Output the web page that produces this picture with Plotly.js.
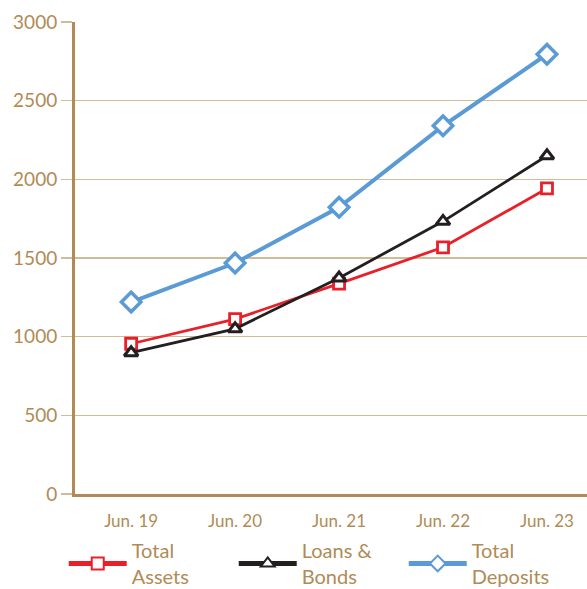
<!DOCTYPE html>
<html>
<head>
<meta charset="utf-8">
<script src="https://cdn.plot.ly/plotly-3.0.1.min.js"></script>
<style>html,body{margin:0;padding:0;background:#fff;}#chart{width:587px;height:589px;}</style>
</head>
<body>
<div id="chart"></div>
<script>
const categories = ['Jun. 19', 'Jun. 20', 'Jun. 21', 'Jun. 22', 'Jun. 23'];
const totalAssets = [955, 1112, 1337, 1568, 1942];
const loansBonds = [898, 1050, 1373, 1733, 2150];
const totalDeposits = [1220, 1468, 1822, 2340, 2795];
const seriesNames = ['Total<br>Assets', 'Loans &<br>Bonds', 'Total<br>Deposits'];

const gold = '#b08b55';
const idx = categories.map((c, i) => i);

const traces = [
  {x: idx, y: totalAssets, name: seriesNames[0], mode: 'lines+markers',
   line: {color: '#e8202a', width: 2.8},
   marker: {symbol: 'square', size: 11, color: '#ffffff', line: {color: '#e8202a', width: 2.8}}},
  {x: idx, y: loansBonds, name: seriesNames[1], mode: 'lines+markers',
   line: {color: '#231f20', width: 2.8},
   marker: {symbol: 'triangle-up', size: 12, color: '#ffffff', line: {color: '#231f20', width: 3}}},
  {x: idx, y: totalDeposits, name: seriesNames[2], mode: 'lines+markers',
   line: {color: '#5b9bd5', width: 4},
   marker: {symbol: 'diamond', size: 15, color: '#ffffff', line: {color: '#5b9bd5', width: 3.5}}}
];

const layout = {
  width: 587, height: 589,
  margin: {l: 75, r: 0, t: 22, b: 95, autoexpand: false},
  paper_bgcolor: '#ffffff', plot_bgcolor: '#ffffff',
  font: {family: 'Lato, sans-serif', color: gold},
  showlegend: true,
  legend: {orientation: 'h', x: -0.022, xanchor: 'left', y: -0.216, yanchor: 'bottom',
           bgcolor: 'rgba(0,0,0,0)',
           font: {size: 20, color: gold}, entrywidth: 97, entrywidthmode: 'pixels',
           itemwidth: 58, tracegroupgap: 0, itemsizing: 'constant'},
  xaxis: {
    range: [-0.54, 4.385], tickmode: 'array', tickvals: idx, ticktext: categories,
    showgrid: false, zeroline: false, showline: true, linecolor: gold, linewidth: 3,
    ticks: '', tickfont: {size: 17, color: gold}, ticklabelstandoff: 10, fixedrange: true
  },
  yaxis: {
    range: [0, 3000], tickmode: 'array', tickvals: [0, 500, 1000, 1500, 2000, 2500, 3000],
    showgrid: true, gridcolor: '#d2bc98', gridwidth: 1.3, zeroline: false,
    showline: true, linecolor: gold, linewidth: 3,
    ticks: 'outside', ticklen: 11, tickcolor: '#d2bc98', tickwidth: 1.3,
    tickfont: {size: 19, color: gold}, fixedrange: true
  }
};

Plotly.newPlot('chart', traces, layout, {displayModeBar: false, staticPlot: true});
</script>
</body>
</html>
